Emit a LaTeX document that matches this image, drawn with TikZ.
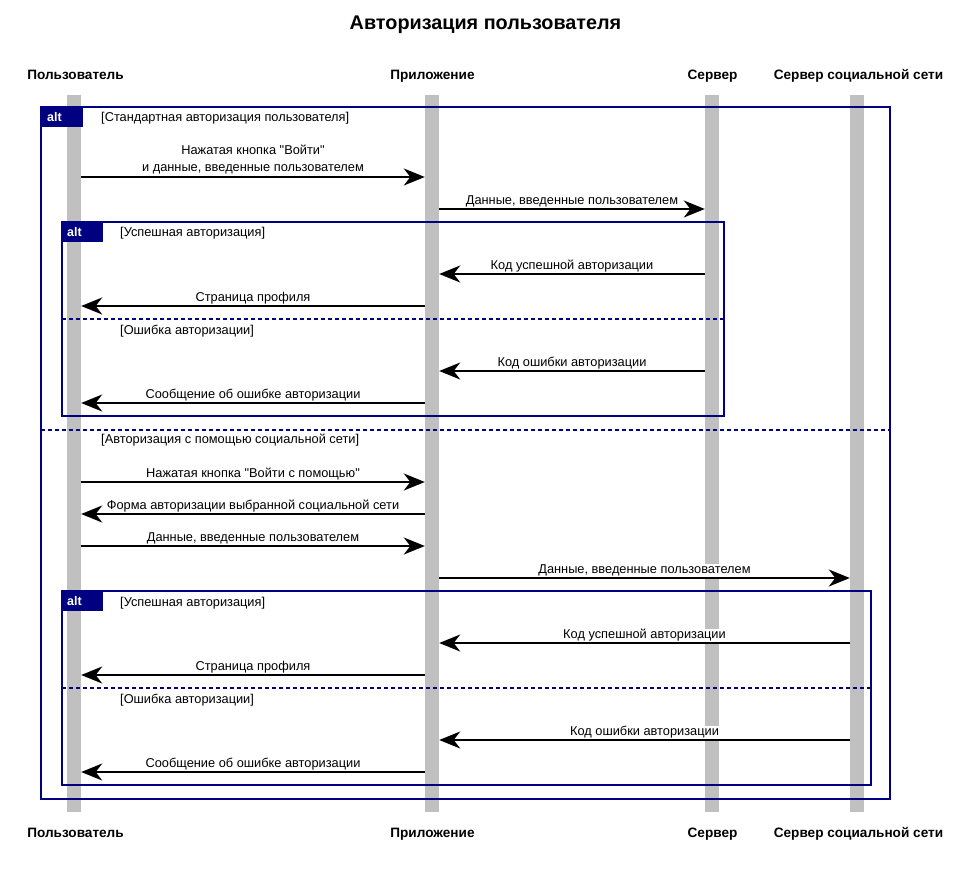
\documentclass[tikz,border=0pt]{standalone}
\usepackage{fontspec}
\setmainfont{Liberation Sans}
\newfontfamily\lsans{Liberation Sans}
\usetikzlibrary{arrows.meta}
\definecolor{framecol}{RGB}{0,0,128}
\definecolor{lifecol}{RGB}{192,192,192}
\begin{document}
\begin{tikzpicture}[x=1pt,y=-1pt,
  lifeline/.style={fill=lifecol, draw=none, minimum width=14pt, minimum height=717pt, inner sep=0},
  msg/.style={draw=black, line width=1.9pt, -{Stealth[length=21pt,width=17pt,inset=6.5pt]}},
  lbl/.style={font=\lsans\fontsize{12.8}{15}\selectfont, fill=white, inner sep=0.5pt, anchor=base},
  guard/.style={font=\lsans\fontsize{12.8}{15}\selectfont, anchor=base west, inner sep=0},
  part/.style={font=\lsans\bfseries\fontsize{13.6}{16}\selectfont, inner sep=0, anchor=base},
  titlestyle/.style={font=\lsans\bfseries\fontsize{19.8}{23}\selectfont, inner sep=0, anchor=base},
  altframe/.style={draw=framecol, line width=2.3pt},
  altsep/.style={draw=framecol, line width=2.3pt, dash pattern=on 4pt off 3pt},
  alttab/.style={fill=framecol, draw=framecol, line width=1pt},
  alttxt/.style={text=white, font=\lsans\bfseries\fontsize{12.5}{14}\selectfont, anchor=base west, inner sep=0}
]
\useasboundingbox (0,0) rectangle (971,876);

% title
\node[titlestyle] (title) at (485.5,29) {Авторизация пользователя};

% participants
\node[part] (pU) at (75.5,79) {Пользователь};
\node[part] (pA) at (432.5,79) {Приложение};
\node[part] (pS) at (712.5,79) {Сервер};
\node[part] (pN) at (858.5,79) {Сервер социальной сети};
\node[part] (bU) at (75.5,837) {Пользователь};
\node[part] (bA) at (432.5,837) {Приложение};
\node[part] (bS) at (712.5,837) {Сервер};
\node[part] (bN) at (858.5,837) {Сервер социальной сети};

% lifelines
\node[lifeline] (LU) at (74,453.5) {};
\node[lifeline] (LA) at (432,453.5) {};
\node[lifeline] (LS) at (712,453.5) {};
\node[lifeline] (LN) at (857,453.5) {};

% outer alt frame
\draw[altframe] (41,107) rectangle (890,799);
\draw[alttab] (41,107) rectangle (82,126);
\node[alttxt] (t0) at (47,121.5) {alt};
\node[guard] (g0) at (101,121.5) {[Стандартная авторизация пользователя]};
\draw[altsep] (41,430) -- (890,430);
\node[guard] (g1) at (101,443.5) {[Авторизация с помощью социальной сети]};

% inner alt 1
\draw[altframe] (62,222) rectangle (724,416);
\draw[alttab] (62,222) rectangle (102,241);
\node[alttxt] (t1) at (67,236.5) {alt};
\node[guard] (g2) at (120,236.5) {[Успешная авторизация]};
\draw[altsep] (62,319) -- (724,319);
\node[guard] (g3) at (120,334.5) {[Ошибка авторизации]};

% inner alt 2
\draw[altframe] (62,591) rectangle (871,785);
\draw[alttab] (62,591) rectangle (102,610);
\node[alttxt] (t2) at (67,605.5) {alt};
\node[guard] (g4) at (120,606.5) {[Успешная авторизация]};
\draw[altsep] (62,688) -- (871,688);
\node[guard] (g5) at (120,703.5) {[Ошибка авторизации]};

% messages
\draw[msg] (LU.east |- 0,177) -- node[lbl, midway, yshift=6pt] (m1b) {и данные, введенные пользователем}
  node[lbl, midway, yshift=23pt] (m1a) {Нажатая кнопка "Войти"} (LA.west |- 0,177);
\draw[msg] (LA.east |- 0,209) -- node[lbl, midway, yshift=4.5pt] (m2) {Данные, введенные пользователем} (LS.west |- 0,209);
\draw[msg] (LS.west |- 0,274) -- node[lbl, midway, yshift=4.5pt] (m3) {Код успешной авторизации} (LA.east |- 0,274);
\draw[msg] (LA.west |- 0,306) -- node[lbl, midway, yshift=4.5pt] (m4) {Страница профиля} (LU.east |- 0,306);
\draw[msg] (LS.west |- 0,371) -- node[lbl, midway, yshift=4.5pt] (m5) {Код ошибки авторизации} (LA.east |- 0,371);
\draw[msg] (LA.west |- 0,403) -- node[lbl, midway, yshift=4.5pt] (m6) {Сообщение об ошибке авторизации} (LU.east |- 0,403);

\draw[msg] (LU.east |- 0,482) -- node[lbl, midway, yshift=4.5pt] (m7) {Нажатая кнопка "Войти с помощью"} (LA.west |- 0,482);
\draw[msg] (LA.west |- 0,514) -- node[lbl, midway, yshift=4.5pt] (m8) {Форма авторизации выбранной социальной сети} (LU.east |- 0,514);
\draw[msg] (LU.east |- 0,546) -- node[lbl, midway, yshift=4.5pt] (m9) {Данные, введенные пользователем} (LA.west |- 0,546);
\draw[msg] (LA.east |- 0,578) -- node[lbl, midway, yshift=4.5pt] (m10) {Данные, введенные пользователем} (LN.west |- 0,578);
\draw[msg] (LN.west |- 0,643) -- node[lbl, midway, yshift=4.5pt] (m11) {Код успешной авторизации} (LA.east |- 0,643);
\draw[msg] (LA.west |- 0,675) -- node[lbl, midway, yshift=4.5pt] (m12) {Страница профиля} (LU.east |- 0,675);
\draw[msg] (LN.west |- 0,740) -- node[lbl, midway, yshift=4.5pt] (m13) {Код ошибки авторизации} (LA.east |- 0,740);
\draw[msg] (LA.west |- 0,772) -- node[lbl, midway, yshift=4.5pt] (m14) {Сообщение об ошибке авторизации} (LU.east |- 0,772);
\end{tikzpicture}
\end{document}
